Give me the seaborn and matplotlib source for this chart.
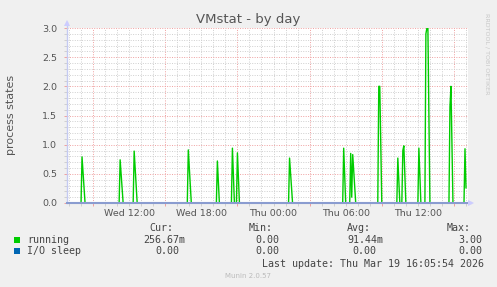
import matplotlib
matplotlib.use("Agg")
import matplotlib.pyplot as plt
import matplotlib.dates as mdates
from matplotlib.ticker import MultipleLocator
from matplotlib.lines import Line2D
import seaborn as sns
import pandas as pd

# ---------------- data ----------------
title = "VMstat - by day"
ylabel = "process states"
credit = "RRDTOOL / TOBI OETIKER"
footer = "Munin 2.0.57"
last_update = "Last update: Thu Mar 19 16:05:54 2026"

running_times = [
    "2026-03-18 06:50",
    "2026-03-18 08:00", "2026-03-18 08:05", "2026-03-18 08:20",
    "2026-03-18 11:10", "2026-03-18 11:15", "2026-03-18 11:30",
    "2026-03-18 12:20", "2026-03-18 12:25", "2026-03-18 12:40",
    "2026-03-18 16:50", "2026-03-18 16:55", "2026-03-18 17:10",
    "2026-03-18 19:15", "2026-03-18 19:20", "2026-03-18 19:30",
    "2026-03-18 20:30", "2026-03-18 20:35", "2026-03-18 20:45",
    "2026-03-18 20:55", "2026-03-18 21:00", "2026-03-18 21:10",
    "2026-03-19 01:15", "2026-03-19 01:20", "2026-03-19 01:35",
    "2026-03-19 05:45", "2026-03-19 05:50", "2026-03-19 06:00",
    "2026-03-19 06:20", "2026-03-19 06:25", "2026-03-19 06:30", "2026-03-19 06:35", "2026-03-19 06:50",
    "2026-03-19 08:40", "2026-03-19 08:45", "2026-03-19 08:50", "2026-03-19 09:00",
    "2026-03-19 10:15", "2026-03-19 10:20", "2026-03-19 10:30",
    "2026-03-19 10:40", "2026-03-19 10:45", "2026-03-19 10:50", "2026-03-19 11:00",
    "2026-03-19 12:00", "2026-03-19 12:05", "2026-03-19 12:15",
    "2026-03-19 12:35", "2026-03-19 12:40", "2026-03-19 12:45", "2026-03-19 12:50", "2026-03-19 13:00",
    "2026-03-19 14:35", "2026-03-19 14:40", "2026-03-19 14:45", "2026-03-19 14:55",
    "2026-03-19 15:50", "2026-03-19 15:55", "2026-03-19 16:00",
]
running_values = [
    0.0,
    0.0, 0.79, 0.0,
    0.0, 0.74, 0.0,
    0.0, 0.89, 0.0,
    0.0, 0.91, 0.0,
    0.0, 0.72, 0.0,
    0.0, 0.94, 0.0,
    0.0, 0.86, 0.0,
    0.0, 0.77, 0.0,
    0.0, 0.94, 0.0,
    0.0, 0.85, 0.10, 0.83, 0.0,
    0.0, 2.0, 2.0, 0.0,
    0.0, 0.77, 0.0,
    0.0, 0.90, 0.98, 0.0,
    0.0, 0.94, 0.0,
    0.0, 2.9, 3.0, 3.0, 0.0,
    0.0, 1.65, 2.0, 0.0,
    0.0, 0.93, 0.26,
]
io_sleep_times = ["2026-03-18 06:50", "2026-03-19 16:00"]
io_sleep_values = [0.0, 0.0]

x_start = "2026-03-18 06:50"
x_end = "2026-03-19 16:10"
y_min, y_max = 0.0, 3.0

legend_names = ["running", "I/O sleep"]
legend_colors = ["#00CC00", "#0066B3"]
col_headers = ["Cur:", "Min:", "Avg:", "Max:"]
cur_values = ["256.67m", "0.00"]
min_values = ["0.00", "0.00"]
avg_values = ["91.44m", "0.00"]
max_values = ["3.00", "0.00"]

# ---------------- figure ----------------
W, H = 497, 287
fig = plt.figure(figsize=(W / 100, H / 100), dpi=100, facecolor="#F0F0F0")


def fx(x):
    return x / W


def fy(y):
    return 1 - y / H


L, R, T, B = 67, 468, 28, 203
ax = fig.add_axes([fx(L), fy(B), (R - L) / W, (B - T) / H])
ax.set_facecolor("white")

run_df = pd.DataFrame({"time": pd.to_datetime(running_times), "value": running_values})
io_df = pd.DataFrame({"time": pd.to_datetime(io_sleep_times), "value": io_sleep_values})

sns.lineplot(data=run_df, x="time", y="value", ax=ax, color=legend_colors[0],
             linewidth=1.0, estimator=None, legend=False, zorder=3)
sns.lineplot(data=io_df, x="time", y="value", ax=ax, color=legend_colors[1],
             linewidth=0.8, estimator=None, legend=False, zorder=2, alpha=0.4)

ax.set_xlim(pd.Timestamp(x_start), pd.Timestamp(x_end))
ax.set_ylim(y_min, y_max)
ax.set_xlabel("")
ax.set_ylabel("")

# grid
ax.xaxis.set_major_locator(mdates.HourLocator(byhour=[3, 9, 15, 21]))
ax.xaxis.set_minor_locator(mdates.HourLocator())
ax.yaxis.set_major_locator(MultipleLocator(0.5))
ax.yaxis.set_minor_locator(MultipleLocator(0.1))
ax.yaxis.set_major_formatter(matplotlib.ticker.FormatStrFormatter("%.1f"))
ax.set_axisbelow(True)
ax.grid(which="minor", color="#CFCFCF", linestyle=(0, (1, 1.5)), linewidth=0.7)
ax.grid(which="major", color="#EFA0A0", linestyle=(0, (1, 1.5)), linewidth=0.7)
ax.tick_params(axis="x", which="both", labelbottom=False, length=2, width=0.7)
ax.tick_params(axis="x", which="major", color="#EFA0A0")
ax.tick_params(axis="x", which="minor", color="#CFCFCF")
ax.tick_params(axis="y", which="major", length=2, width=0.7, color="#EFA0A0",
               labelsize=6.8, labelcolor="#555555", pad=5)
ax.tick_params(axis="y", which="minor", length=2, width=0.7, color="#CFCFCF")
for s in ax.spines.values():
    s.set_visible(False)

# time labels on a twin axis (labels at 00/06/12/18)
ax2 = ax.twiny()
ax2.set_xlim(ax.get_xlim())
ax2.xaxis.set_ticks_position("bottom")
ax2.xaxis.set_label_position("bottom")
ax2.xaxis.set_major_locator(mdates.HourLocator(byhour=[0, 6, 12, 18]))
ax2.xaxis.set_major_formatter(mdates.DateFormatter("%a %H:%M"))
ax2.tick_params(axis="x", length=0, labelsize=6.8, labelcolor="#555555", pad=4)
for s in ax2.spines.values():
    s.set_visible(False)

# axes lines with arrows
fig.add_artist(Line2D([fx(L), fx(L)], [fy(B), fy(22)], color="#C4CAF2", lw=1.0, zorder=10))
fig.add_artist(Line2D([fx(L), fx(471)], [fy(B), fy(B)], color="#8A9CD0", lw=1.5, zorder=10))
fig.add_artist(Line2D([fx(L)], [fy(22.5)], marker="^", markersize=5, color="#CCCCFF",
                      markeredgewidth=0, zorder=10))
fig.add_artist(Line2D([fx(471)], [fy(B)], marker=">", markersize=5, color="#CCCCFF",
                      markeredgewidth=0, zorder=10))

# texts
fig.text(fx(248), fy(19), title, ha="center", va="center", fontsize=9.5, color="#555555")
fig.text(fx(11), fy(115), ylabel, ha="center", va="center", rotation=90,
         fontsize=8, color="#555555")
fig.text(fx(487), fy(54), credit, ha="center", va="center", rotation=270,
         fontsize=4.6, color="#C8C8C8")

mono = "DejaVu Sans Mono"
fs = 7.2
tc = "#444444"
row_y = [239.7, 251.3]
header_x = [149, 249, 347, 447]
for hx, hname in zip(header_x, col_headers):
    fig.text(fx(hx), fy(228), hname, ha="left", va="center", family=mono, fontsize=fs, color=tc)

value_x = {
    "cur": [143, 155],
    "min": [255, 255],
    "avg": [347, 352],
    "max": [458, 458],
}
for i, name in enumerate(legend_names):
    y = row_y[i]
    fig.add_artist(Line2D([fx(17)], [fy(y)], marker="s", markersize=4.5,
                          color=legend_colors[i], markeredgewidth=0))
    fig.text(fx(27), fy(y), name, ha="left", va="center", family=mono, fontsize=fs, color=tc)
    fig.text(fx(value_x["cur"][i]), fy(y), cur_values[i], ha="left", va="center",
             family=mono, fontsize=fs, color=tc)
    fig.text(fx(value_x["min"][i]), fy(y), min_values[i], ha="left", va="center",
             family=mono, fontsize=fs, color=tc)
    fig.text(fx(value_x["avg"][i]), fy(y), avg_values[i], ha="left", va="center",
             family=mono, fontsize=fs, color=tc)
    fig.text(fx(value_x["max"][i]), fy(y), max_values[i], ha="left", va="center",
             family=mono, fontsize=fs, color=tc)

fig.text(fx(262), fy(263.7), last_update, ha="left", va="center", family=mono,
         fontsize=fs, color=tc)
fig.text(fx(248), fy(276), footer, ha="center", va="center", fontsize=5, color="#BBBBBB")

fig.savefig("out.png", dpi=100, facecolor=fig.get_facecolor())
